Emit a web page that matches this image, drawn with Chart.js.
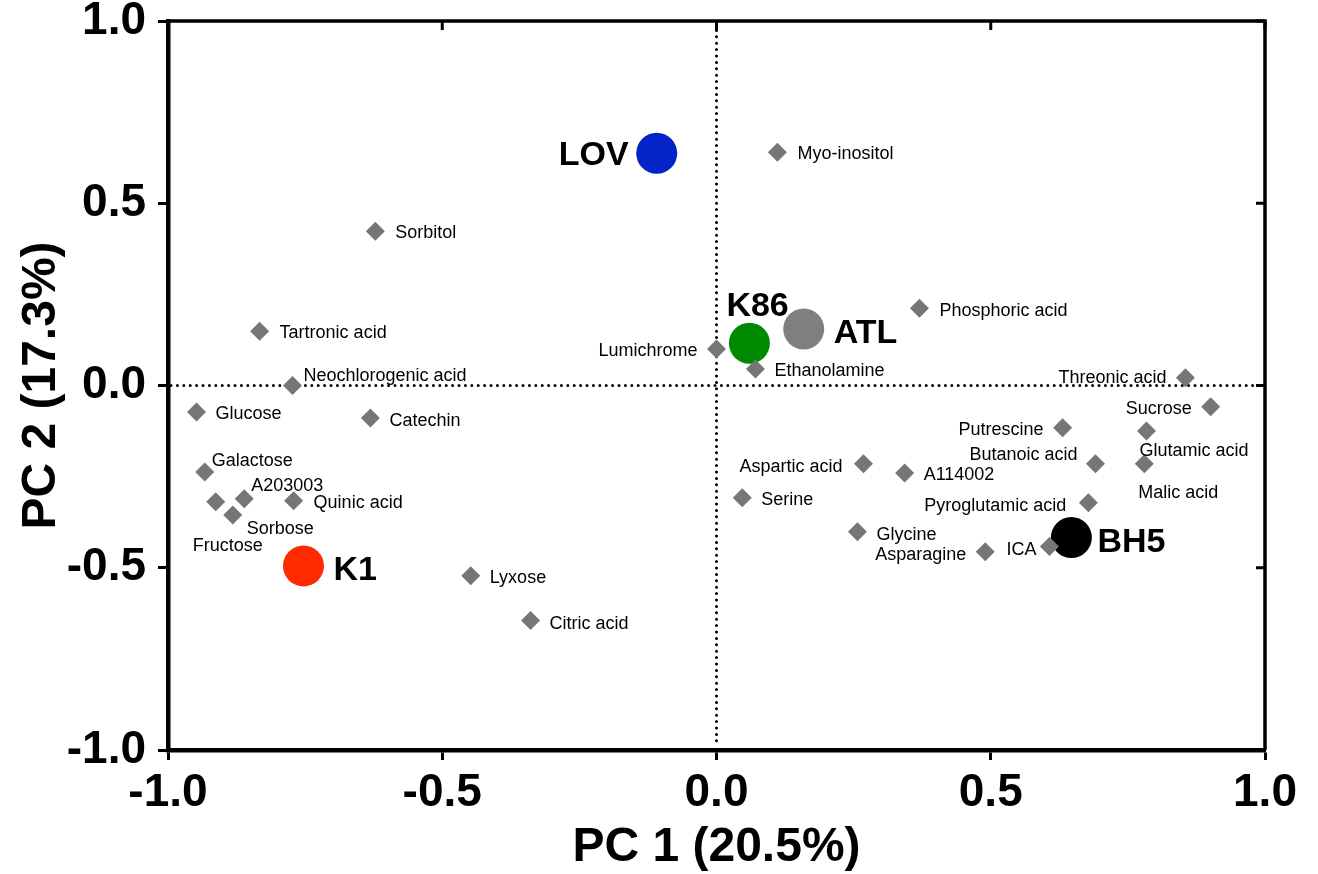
<!DOCTYPE html>
<html>
<head>
<meta charset="utf-8">
<script src="https://cdn.jsdelivr.net/npm/chart.js@4.4.1/dist/chart.umd.min.js"></script>
<style>
  html, body { margin: 0; padding: 0; background: #fff; }
</style>
</head>
<body>
<canvas id="pcaChart" width="1318" height="874"></canvas>
<script>
// metabolite loadings (grey diamonds)
const metaboliteNames = [
  "Myo-inositol", "Sorbitol", "Tartronic acid", "Neochlorogenic acid", "Glucose",
  "Catechin", "Galactose", "A203003", "Fructose", "Sorbose", "Quinic acid",
  "Lyxose", "Citric acid", "Lumichrome", "Ethanolamine", "Phosphoric acid",
  "Threonic acid", "Sucrose", "Putrescine", "Glutamic acid", "Butanoic acid",
  "Malic acid", "Aspartic acid", "A114002", "Serine", "Pyroglutamic acid",
  "Glycine", "Asparagine", "ICA"
];
const metaboliteX = [
  0.111, -0.622, -0.833, -0.773, -0.948,
  -0.631, -0.933, -0.861, -0.913, -0.882, -0.771,
  -0.448, -0.339, 0.000, 0.071, 0.370,
  0.855, 0.901, 0.631, 0.784, 0.691,
  0.780, 0.268, 0.343, 0.047, 0.678,
  0.257, 0.490, 0.607
];
const metaboliteY = [
  0.640, 0.423, 0.149, 0.000, -0.073,
  -0.089, -0.237, -0.311, -0.319, -0.355, -0.316,
  -0.522, -0.645, 0.100, 0.045, 0.212,
  0.021, -0.058, -0.116, -0.125, -0.215,
  -0.215, -0.215, -0.240, -0.308, -0.322,
  -0.401, -0.456, -0.442
];

// sample groups (big circles)
const groupNames = ["LOV", "K86", "ATL", "K1", "BH5"];
const groupX = [-0.109, 0.060, 0.159, -0.753, 0.647];
const groupY = [0.637, 0.116, 0.155, -0.495, -0.417];
const groupColors = ["#0524c8", "#008a00", "#7f7f7f", "#ff2a00", "#000000"];

const tickValues = [-1.0, -0.5, 0.0, 0.5, 1.0];

// where each label sits next to its marker: [dx, dy, align]
const metaboliteLabelPos = [
  [20, 2, "left"], [20, 2, "left"], [20, 2, "left"], [11, -9, "left"], [19, 2, "left"],
  [19, 3, "left"], [7, -11, "left"], [7, -13, "left"], [-23, 44, "left"], [14, 14, "left"], [20, 2, "left"],
  [19, 2, "left"], [19, 3, "left"], [-19, 2, "right"], [19, 2, "left"], [20, 3, "left"],
  [-19, 0, "right"], [-19, 2, "right"], [-19, 2, "right"], [-7, 20, "left"], [-18, -9, "right"],
  [-6, 29, "left"], [-21, 3, "right"], [19, 2, "left"], [19, 2, "left"], [-22, 3, "right"],
  [19, 3, "left"], [-19, 3, "right"], [-13, 3, "right"]
];
const groupLabelPos = [
  [-28, 2, "right"], [-23, -37, "left"], [30, 5, "left"], [30, 5, "left"], [26, 5, "left"]
];

const FONT = "'Liberation Sans', Arial, Helvetica, sans-serif";

function scatterPoints(xs, ys) {
  return xs.map((x, i) => ({ x: x, y: ys[i] }));
}

const zeroLinesAndFrame = {
  id: "zeroLinesAndFrame",
  beforeDatasetsDraw(chart) {
    const { ctx, chartArea: a, scales } = chart;
    const x0 = scales.x.getPixelForValue(0);
    const y0 = scales.y.getPixelForValue(0);
    ctx.save();
    ctx.strokeStyle = "#000";
    ctx.lineWidth = 3;
    ctx.lineCap = "round";
    ctx.setLineDash([0, 6.4]);
    ctx.beginPath();
    ctx.moveTo(x0, a.top + 3);
    ctx.lineTo(x0, a.bottom - 3);
    ctx.moveTo(a.left + 3, y0);
    ctx.lineTo(a.right - 3, y0);
    ctx.stroke();
    ctx.restore();
  },
  afterDraw(chart) {
    const { ctx, chartArea: a, scales } = chart;
    ctx.save();
    ctx.strokeStyle = "#000";
    ctx.lineWidth = 3.5;
    ctx.beginPath();
    ctx.moveTo(a.left - 2, a.top);
    ctx.lineTo(a.right, a.top);
    ctx.lineTo(a.right, a.bottom);
    ctx.stroke();
    // mirrored ticks pointing inwards
    ctx.lineWidth = 3;
    ctx.beginPath();
    tickValues.forEach(v => {
      const px = scales.x.getPixelForValue(v);
      const py = scales.y.getPixelForValue(v);
      ctx.moveTo(px, a.top);
      ctx.lineTo(px, a.top + 9);
      ctx.moveTo(a.right, py);
      ctx.lineTo(a.right - 9, py);
    });
    ctx.stroke();
    ctx.restore();
  }
};

const pointLabels = {
  id: "pointLabels",
  afterDatasetsDraw(chart) {
    const ctx = chart.ctx;
    ctx.save();
    ctx.textBaseline = "middle";
    ctx.fillStyle = "#000";

    ctx.font = "18px " + FONT;
    chart.getDatasetMeta(0).data.forEach((pt, i) => {
      const pos = metaboliteLabelPos[i];
      ctx.textAlign = pos[2];
      ctx.fillText(metaboliteNames[i], pt.x + pos[0], pt.y + pos[1]);
    });

    ctx.font = "bold 34px " + FONT;
    chart.getDatasetMeta(1).data.forEach((pt, i) => {
      const pos = groupLabelPos[i];
      ctx.textAlign = pos[2];
      ctx.fillText(groupNames[i], pt.x + pos[0], pt.y + pos[1]);
    });
    ctx.restore();
  }
};

const ctx = document.getElementById("pcaChart");

new Chart(ctx, {
  type: "scatter",
  data: {
    datasets: [{
      label: "Metabolites",
      data: scatterPoints(metaboliteX, metaboliteY),
      pointStyle: "rectRot",
      pointRadius: 9.5,
      backgroundColor: "#767676",
      borderWidth: 0
    }, {
      label: "Samples",
      data: scatterPoints(groupX, groupY),
      pointStyle: "circle",
      pointRadius: 20.5,
      backgroundColor: groupColors,
      borderWidth: 0
    }]
  },
  options: {
    responsive: false,
    devicePixelRatio: 1,
    animation: false,
    layout: { padding: { top: 21, right: 53, left: 0, bottom: 0 } },
    plugins: {
      legend: { display: false },
      tooltip: { enabled: false }
    },
    scales: {
      x: {
        type: "linear",
        min: -1,
        max: 1,
        afterBuildTicks: scale => { scale.ticks = tickValues.map(v => ({ value: v })); },
        afterFit: scale => {
          scale.height = 124;
          scale.paddingLeft = 0;
          scale.paddingRight = 0;
        },
        ticks: {
          callback: v => v.toFixed(1),
          color: "#000",
          padding: 13,
          maxRotation: 0,
          font: { family: FONT, size: 46, weight: "bold", lineHeight: 0.9 }
        },
        grid: {
          drawOnChartArea: false,
          drawTicks: true,
          tickLength: 10,
          tickWidth: 3,
          tickColor: "#000"
        },
        border: { display: true, color: "#000", width: 4.5 },
        title: {
          display: true,
          text: "PC 1 (20.5%)",
          color: "#000",
          padding: { top: 0, bottom: 0 },
          font: { family: FONT, size: 48, weight: "bold", lineHeight: 1.1 }
        }
      },
      y: {
        type: "linear",
        min: -1,
        max: 1,
        afterBuildTicks: scale => { scale.ticks = tickValues.map(v => ({ value: v })); },
        afterFit: scale => {
          scale.width = 168;
          scale.paddingTop = 0;
          scale.paddingBottom = 0;
        },
        ticks: {
          callback: v => v.toFixed(1),
          color: "#000",
          padding: 12,
          font: { family: FONT, size: 46, weight: "bold", lineHeight: 0.9 }
        },
        grid: {
          drawOnChartArea: false,
          drawTicks: true,
          tickLength: 10,
          tickWidth: 3,
          tickColor: "#000"
        },
        border: { display: true, color: "#000", width: 4.5 },
        title: {
          display: true,
          text: "PC 2 (17.3%)",
          color: "#000",
          padding: { top: 13, bottom: 0 },
          font: { family: FONT, size: 48, weight: "bold" }
        }
      }
    }
  },
  plugins: [zeroLinesAndFrame, pointLabels]
});
</script>
</body>
</html>
